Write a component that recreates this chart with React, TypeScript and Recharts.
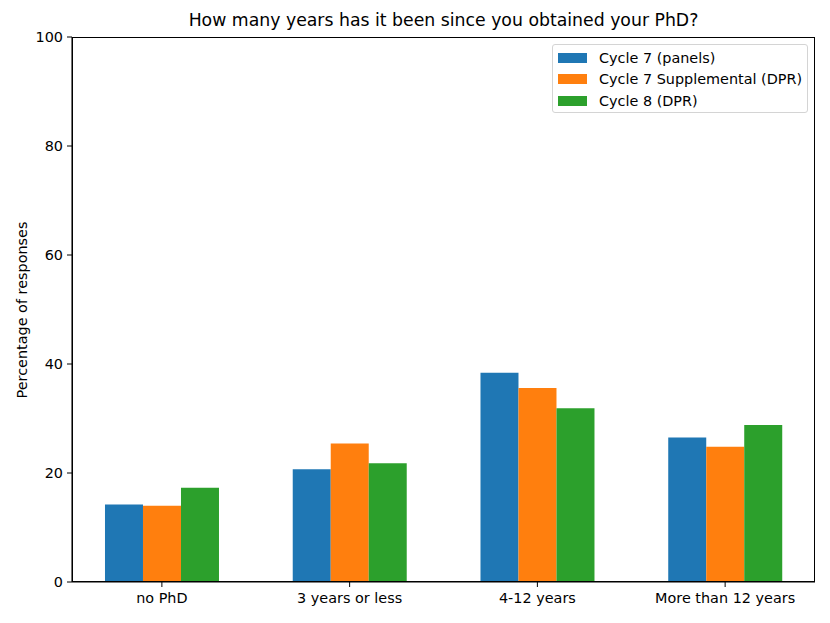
import { BarChart, Bar, XAxis, YAxis } from "recharts";

const categories = ["no PhD", "3 years or less", "4-12 years", "More than 12 years"];
const cycle7Panels = [14.2, 20.7, 38.4, 26.5];
const cycle7Supplemental = [14.0, 25.4, 35.6, 24.8];
const cycle8 = [17.3, 21.8, 31.9, 28.8];
const yTicks = [0, 20, 40, 60, 80, 100];

const SERIES = [
  { key: "c7p", label: "Cycle 7 (panels)", color: "#1f77b4" },
  { key: "c7s", label: "Cycle 7 Supplemental (DPR)", color: "#ff7f0e" },
  { key: "c8", label: "Cycle 8 (DPR)", color: "#2ca02c" },
];

const data = categories.map((name, i) => ({
  name,
  c7p: cycle7Panels[i],
  c7s: cycle7Supplemental[i],
  c8: cycle8[i],
}));

const FONT = "'DejaVu Sans', sans-serif";
const FS = 14.4;
const tickStyle = { fontSize: FS, fill: "#000", fontFamily: FONT };

// plot box in page pixels
const PLOT = { left: 72, top: 37, right: 815, bottom: 582 };

function LegendBox() {
  return (
    <div
      style={{
        position: "absolute",
        left: 552,
        top: 44,
        width: 256,
        height: 69,
        boxSizing: "border-box",
        border: "1px solid #d4d4d4",
        borderRadius: 3,
        background: "rgba(255,255,255,0.8)",
        padding: "2px 0 0 5px",
        fontFamily: FONT,
        fontSize: FS,
        color: "#000",
      }}
    >
      {SERIES.map((s) => (
        <div
          key={s.key}
          style={{ display: "flex", alignItems: "center", height: 21.5 }}
        >
          <span
            style={{
              width: 29,
              height: 10,
              background: s.color,
              marginRight: 12,
              display: "inline-block",
            }}
          />
          <span style={{ whiteSpace: "nowrap" }}>{s.label}</span>
        </div>
      ))}
    </div>
  );
}

export default function App() {
  return (
    <div style={{ position: "absolute", left: 0, top: 0, width: 830, height: 623, background: "#fff" }}>
      <div
        style={{
          position: "absolute",
          left: PLOT.left,
          width: PLOT.right - PLOT.left,
          top: 10,
          textAlign: "center",
          fontFamily: FONT,
          fontSize: 17.3,
          color: "#000",
          whiteSpace: "nowrap",
        }}
      >
        How many years has it been since you obtained your PhD?
      </div>
      <div
        style={{
          position: "absolute",
          left: 8,
          top: PLOT.top,
          height: PLOT.bottom - PLOT.top,
          width: 28,
          display: "flex",
          alignItems: "center",
          justifyContent: "center",
        }}
      >
        <div
          style={{
            transform: "rotate(-90deg)",
            whiteSpace: "nowrap",
            fontFamily: FONT,
            fontSize: FS,
            color: "#000",
          }}
        >
          Percentage of responses
        </div>
      </div>
      <div style={{ position: "absolute", left: 0, top: 0 }}>
        <BarChart
          width={830}
          height={623}
          data={data}
          margin={{ top: PLOT.top, right: 830 - PLOT.right, left: 10, bottom: 0 }}
          barCategoryGap="19.7%"
          barGap={0}
        >
          <XAxis
            dataKey="name"
            height={623 - PLOT.bottom}
            tick={tickStyle}
            tickSize={5}
            tickMargin={6}
            padding={{ left: -4, right: -4 }}
            axisLine={{ stroke: "#000", strokeWidth: 1.1 }}
            tickLine={{ stroke: "#000" }}
            interval={0}
          />
          <YAxis
            domain={[0, 100]}
            ticks={yTicks}
            width={PLOT.left - 10}
            tick={tickStyle}
            tickSize={5}
            tickMargin={4}
            axisLine={{ stroke: "#000", strokeWidth: 1.1 }}
            tickLine={{ stroke: "#000" }}
          />
          {SERIES.map((s) => (
            <Bar
              key={s.key}
              dataKey={s.key}
              name={s.label}
              fill={s.color}
              isAnimationActive={false}
            />
          ))}
        </BarChart>
      </div>
      <div
        style={{
          position: "absolute",
          left: PLOT.left,
          top: PLOT.top,
          width: PLOT.right - PLOT.left,
          height: PLOT.bottom - PLOT.top,
          boxSizing: "border-box",
          border: "1.1px solid #000",
          pointerEvents: "none",
        }}
      />
      <LegendBox />
    </div>
  );
}
